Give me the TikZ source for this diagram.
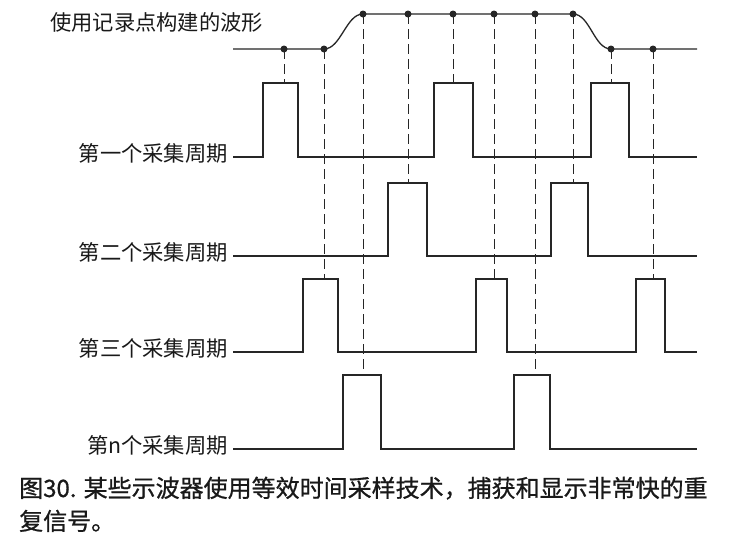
\documentclass[tikz,border=0pt]{standalone}
\usepackage{fontspec}
\setmainfont{Noto Sans CJK SC}
\newfontfamily\capfont{Noto Sans CJK SC}[FakeBold=0.8]
\begin{document}
\begin{tikzpicture}[x=1pt,y=-1pt,
  wave/.style={line width=1.3pt, black!85, line join=miter},
  guide/.style={line width=1pt, dash pattern=on 10pt off 5pt, black!85},
  sdot/.style={circle, fill=black!85, inner sep=0pt, minimum size=7pt},
  lbl/.style={anchor=base east, font=\fontsize{21.3}{24}\selectfont, inner sep=0pt, black!90},
]
\useasboundingbox[fill=white] (0,0) rectangle (732,549);

% labels
\node[anchor=base west, font=\fontsize{21.3}{24}\selectfont, inner sep=0pt, black!90] (title) at (50,30.5) {使用记录点构建的波形};
\node[lbl] (l1) at (228,161.5) {第一个采集周期};
\node[lbl] (l2) at (228,260.5) {第二个采集周期};
\node[lbl] (l3) at (228,356.5) {第三个采集周期};
\node[lbl] (ln) at (228,453.5) {第n个采集周期};

% pulse tops (sampling points)
\coordinate (p1a) at (284,83);  \coordinate (p1b) at (453,83);  \coordinate (p1c) at (611,83);
\coordinate (p2a) at (408,183); \coordinate (p2b) at (573,183);
\coordinate (p3a) at (324,279); \coordinate (p3b) at (494,279); \coordinate (p3c) at (653,279);
\coordinate (pna) at (363,375); \coordinate (pnb) at (535,375);

% reconstructed waveform dots
\node[sdot] (d1) at (284,49) {};
\node[sdot] (d2) at (324,49) {};
\node[sdot] (d3) at (363,14) {};
\node[sdot] (d4) at (408,14) {};
\node[sdot] (d5) at (453,14) {};
\node[sdot] (d6) at (494,14) {};
\node[sdot] (d7) at (535,14) {};
\node[sdot] (d8) at (573,14) {};
\node[sdot] (d9) at (611,49) {};
\node[sdot] (d10) at (653,49) {};

% guides
\draw[guide] (d1.center) -- (p1a);
\draw[guide] (d2.center) -- (p3a);
\draw[guide] (d3.center) -- (pna);
\draw[guide] (d4.center) -- (p2a);
\draw[guide] (d5.center) -- (p1b);
\draw[guide] (d6.center) -- (p3b);
\draw[guide] (d7.center) -- (pnb);
\draw[guide] (d8.center) -- (p2b);
\draw[guide] (d9.center) -- (p1c);
\draw[guide] (d10.center) -- (p3c);

% reconstructed waveform
\draw[wave] (233,49) -- (d1.center) -- (d2.center)
  .. controls (341,49) and (346,14) .. (d3.center)
  -- (d8.center)
  .. controls (590,14) and (594,49) .. (d9.center)
  -- (d10.center) -- (697,49);

% acquisition cycles
\draw[wave] (233,157) -- (263,157) -- (263,83) -- (298,83) -- (298,157)
  -- (434,157) -- (434,83) -- (473,83) -- (473,157)
  -- (591,157) -- (591,83) -- (629,83) -- (629,157) -- (697,157);
\draw[wave] (233,256) -- (388,256) -- (388,183) -- (427,183) -- (427,256)
  -- (551,256) -- (551,183) -- (588,183) -- (588,256) -- (697,256);
\draw[wave] (233,352) -- (303,352) -- (303,279) -- (338,279) -- (338,352)
  -- (476,352) -- (476,279) -- (507,279) -- (507,352)
  -- (636,352) -- (636,279) -- (665,279) -- (665,352) -- (697,352);
\draw[wave] (233,449) -- (343,449) -- (343,375) -- (381,375) -- (381,449)
  -- (514,449) -- (514,375) -- (550,375) -- (550,449) -- (697,449);

% caption
\node[anchor=base west, align=left, inner sep=0pt, black!90,
  font=\capfont\fontsize{24}{33}\selectfont] (cap) at (19,530)
  {图30. 某些示波器使用等效时间采样技术，捕获和显示非常快的重\\复信号。};
\end{tikzpicture}
\end{document}
